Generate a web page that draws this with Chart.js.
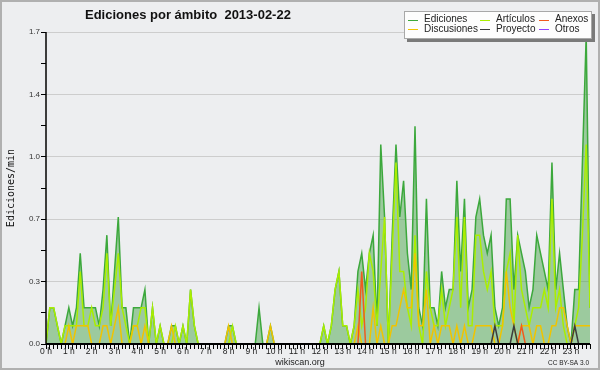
<!DOCTYPE html>
<html>
<head>
<meta charset="utf-8">
<title>Ediciones por ámbito</title>
<script src="https://cdn.jsdelivr.net/npm/chart.js@4.4.1/dist/chart.umd.min.js"></script>
<style>
    html, body { margin: 0; padding: 0; background: #edeef0; }
    canvas { display: block; }
</style>
</head>
<body>
<canvas id="chart" width="600" height="370"></canvas>
<script>
// Edits per minute, one value per 10-minute slot (6 per hour, 24 hours)
const ediciones = [
    0, .2, .2, .1, 0, .1,      .2, .1, .2, .5, .2, .2,     .2, .2, .1, .3, .6, .1,
    .4, .7, .2, .2, 0, .2,     .2, .2, .3, 0, .2, 0,       .1, 0, 0, .1, .1, 0,
    .1, 0, .3, .1, 0, 0,       0, 0, 0, 0, 0, 0,           .1, .1, 0, 0, 0, 0,
    0, 0, .2, 0, 0, .1,        0, 0, 0, 0, 0, 0,           0, 0, 0, 0, 0, 0,
    0, .1, 0, .1, .3, .4,      .1, .1, 0, .1, .4, .5,      .3, .5, .6, .1, 1.1, .7,
    0, .6, 1.1, .7, .9, .5,    .3, 1.2, .2, .1, .8, .2,    .2, .1, .4, .2, .3, .3,
    .9, .4, .8, .2, .3, .7,    .8, .6, .5, .6, .2, .1,     .2, .8, .8, .3, .6, .5,
    .4, .2, .3, .6, .5, .4,    .3, 1.0, .3, .5, .3, .1,    0, .3, .3, 1.0, 1.7, .2
];
const articulos = [
    0, .2, .2, .1, 0, .1,      .1, .1, .1, .4, .1, .1,     .2, .1, .1, .2, .5, .1,
    .3, .5, .2, .1, 0, .1,     .1, .2, .2, 0, .2, 0,       .1, 0, 0, 0, .1, 0,
    .1, 0, .3, .1, 0, 0,       0, 0, 0, 0, 0, 0,           0, .1, 0, 0, 0, 0,
    0, 0, 0, 0, 0, 0,          0, 0, 0, 0, 0, 0,           0, 0, 0, 0, 0, 0,
    0, .1, 0, .1, .3, .4,      .1, .1, 0, .1, .3, .1,      .2, .5, .4, .1, .4, .7,
    0, .5, 1.0, .4, .4, .2,    .1, .6, .1, 0, .4, .2,      .1, .1, .3, .1, .2, .3,
    .7, .2, .7, .1, .1, .6,    .6, .4, .3, .4, .1, .1,     .1, .4, .5, .1, .6, .3,
    .2, .1, .2, .2, .2, .3,    .2, .8, .2, .3, .1, 0,      0, .1, .2, .6, 1.1, .2
];
const discusiones = [
    0, 0, 0, 0, 0, 0,          .1, 0, .1, .1, .1, .1,      0, 0, 0, .1, .1, 0,
    .1, .2, 0, 0, 0, .1,       .1, 0, .1, 0, 0, 0,         0, 0, 0, .1, 0, 0,
    0, 0, 0, 0, 0, 0,          0, 0, 0, 0, 0, 0,           .1, 0, 0, 0, 0, 0,
    0, 0, 0, 0, 0, .1,         0, 0, 0, 0, 0, 0,           0, 0, 0, 0, 0, 0,
    0, 0, 0, 0, 0, 0,          0, 0, 0, 0, .1, 0,          0, 0, .2, 0, .1, 0,
    0, .1, .1, .2, .3, .2,     .2, .5, .1, .1, .3, 0,      .1, 0, .1, .1, .1, 0,
    .1, 0, .1, 0, 0, .1,       .1, .1, .1, .1, 0, 0,       .1, .4, .2, .1, 0, .1,
    .1, .1, 0, .1, .1, 0,      0, .1, .1, .2, .2, .1,      0, .1, .1, .1, .1, .1
];
const anexos = [
    0, 0, 0, 0, 0, 0,  0, 0, 0, 0, 0, 0,  0, 0, 0, 0, 0, 0,  0, 0, 0, 0, 0, 0,
    0, 0, 0, 0, 0, 0,  0, 0, 0, 0, 0, 0,  0, 0, 0, 0, 0, 0,  0, 0, 0, 0, 0, 0,
    0, 0, 0, 0, 0, 0,  0, 0, 0, 0, 0, 0,  0, 0, 0, 0, 0, 0,  0, 0, 0, 0, 0, 0,
    0, 0, 0, 0, 0, 0,  0, 0, 0, 0, 0, .4, 0, 0, 0, 0, 0, 0,  0, 0, 0, 0, 0, 0,
    0, 0, 0, 0, 0, 0,  0, 0, 0, 0, 0, 0,  0, 0, 0, 0, 0, 0,  0, 0, 0, 0, 0, 0,
    0, 0, 0, 0, 0, .1, 0, 0, 0, 0, 0, 0,  0, 0, 0, 0, 0, 0,  0, 0, 0, 0, 0, 0
];
const proyecto = [
    0, 0, 0, 0, 0, 0,  0, 0, 0, 0, 0, 0,  0, 0, 0, 0, 0, 0,  0, 0, 0, 0, 0, 0,
    0, 0, 0, 0, 0, 0,  0, 0, 0, 0, 0, 0,  0, 0, 0, 0, 0, 0,  0, 0, 0, 0, 0, 0,
    0, 0, 0, 0, 0, 0,  0, 0, 0, 0, 0, 0,  0, 0, 0, 0, 0, 0,  0, 0, 0, 0, 0, 0,
    0, 0, 0, 0, 0, 0,  0, 0, 0, 0, 0, 0,  0, 0, 0, 0, 0, 0,  0, 0, 0, 0, 0, 0,
    0, 0, 0, 0, 0, 0,  0, 0, 0, 0, 0, 0,  0, 0, 0, 0, 0, 0,  0, 0, 0, 0, .1, 0,
    0, 0, 0, .1, 0, 0, 0, 0, 0, 0, 0, 0,  0, 0, 0, 0, 0, 0,  0, .1, 0, 0, 0, 0
];
const otros = [
    0, 0, 0, 0, 0, 0,  0, 0, 0, 0, 0, 0,  0, 0, 0, 0, 0, 0,  0, 0, 0, 0, 0, 0,
    0, 0, 0, 0, 0, 0,  0, 0, 0, 0, 0, 0,  0, 0, 0, 0, 0, 0,  0, 0, 0, 0, 0, 0,
    0, 0, 0, 0, 0, 0,  0, 0, 0, 0, 0, 0,  0, 0, 0, 0, 0, 0,  0, 0, 0, 0, 0, 0,
    0, 0, 0, 0, 0, 0,  0, 0, 0, 0, 0, 0,  0, 0, 0, 0, 0, 0,  0, 0, 0, 0, 0, 0,
    0, 0, 0, 0, 0, 0,  0, 0, 0, 0, 0, 0,  0, 0, 0, 0, 0, 0,  0, 0, 0, 0, 0, 0,
    0, 0, 0, 0, 0, 0,  0, 0, 0, 0, 0, 0,  0, 0, 0, 0, 0, 0,  0, 0, 0, 0, 0, 0
];

const hourLabels = ['0 h', '1 h', '2 h', '3 h', '4 h', '5 h', '6 h', '7 h', '8 h', '9 h', '10 h', '11 h',
                    '12 h', '13 h', '14 h', '15 h', '16 h', '17 h', '18 h', '19 h', '20 h', '21 h', '22 h', '23 h'];
const yTickLabels = ['0.0', '0.3', '0.7', '1.0', '1.4', '1.7'];
const yMax = 1.72;
const slotsPerHour = 6;

const seriesNames = ['Ediciones', 'Artículos', 'Anexos', 'Discusiones', 'Proyecto', 'Otros'];
const colors = {
    'Ediciones': '#3ca83c',
    'Artículos': '#aaee00',
    'Anexos': '#f05a1e',
    'Discusiones': '#f0c400',
    'Proyecto': '#3c3c3c',
    'Otros': '#9040ff'
};

const toPoints = arr => arr.map((v, i) => ({ x: i, y: v }));

const lineSet = (name, values, order) => ({
    label: name,
    data: toPoints(values),
    borderColor: colors[name],
    borderWidth: 1.5,
    fill: false,
    order: order
});

/* Decorations: background, axis lines, title, legend, footer */
const decor = {
    id: 'decor',
    beforeDraw(chart) {
        const c = chart.ctx;
        c.save();
        c.fillStyle = '#edeef0';
        c.fillRect(0, 0, chart.width, chart.height);
        c.strokeStyle = '#b0b0b0';
        c.lineWidth = 2;
        c.strokeRect(1, 1, chart.width - 2, chart.height - 2);
        c.restore();
    },
    afterDatasetsDraw(chart) {
        const c = chart.ctx;
        const a = chart.chartArea;
        c.save();
        c.strokeStyle = '#000';
        c.lineWidth = 2;
        c.beginPath();
        c.moveTo(a.left, a.bottom);
        c.lineTo(a.right, a.bottom);
        c.stroke();
        c.lineWidth = 1.5;
        c.beginPath();
        c.moveTo(a.left, a.top);
        c.lineTo(a.left, a.bottom);
        c.stroke();
        c.restore();
    },
    afterDraw(chart) {
        const c = chart.ctx;
        const a = chart.chartArea;
        c.save();

        // title
        c.fillStyle = '#111';
        c.font = 'bold 13px "Liberation Sans", Arial, sans-serif';
        c.textAlign = 'left';
        c.textBaseline = 'alphabetic';
        c.fillText('Ediciones por ámbito  2013-02-22', 85, 18.5);

        // y axis title
        c.save();
        c.translate(13.5, (a.top + a.bottom) / 2);
        c.rotate(-Math.PI / 2);
        c.font = '10px "DejaVu Sans Mono", monospace';
        c.textAlign = 'center';
        c.fillText('Ediciones/min', 0, 0);
        c.restore();

        // footer
        c.fillStyle = '#222';
        c.font = '9px "Liberation Sans", Arial, sans-serif';
        c.textAlign = 'center';
        c.fillText('wikiscan.org', 300, 365);
        c.font = '6.5px "Liberation Sans", Arial, sans-serif';
        c.textAlign = 'right';
        c.fillText('CC BY-SA 3.0', 589, 364.5);

        // legend box
        const bx = 404, by = 11, bw = 188, bh = 28;
        c.fillStyle = '#7a7a7a';
        c.fillRect(bx + 3, by + 3, bw, bh);
        c.fillStyle = '#fdfdfd';
        c.fillRect(bx, by, bw, bh);
        c.strokeStyle = '#a8a8a8';
        c.lineWidth = 1;
        c.strokeRect(bx + 0.5, by + 0.5, bw - 1, bh - 1);

        const cols = [408, 480, 539];
        const rows = [19.5, 29];
        c.font = '10px "Liberation Sans", Arial, sans-serif';
        c.textAlign = 'left';
        c.textBaseline = 'middle';
        seriesNames.forEach((name, k) => {
            const x = cols[k % 3];
            const y = rows[Math.floor(k / 3)];
            c.strokeStyle = colors[name];
            c.lineWidth = 1;
            c.beginPath();
            c.moveTo(x, Math.round(y) + 0.5);
            c.lineTo(x + 10, Math.round(y) + 0.5);
            c.stroke();
            c.fillStyle = '#222';
            c.fillText(name, x + 16, y);
        });
        c.restore();
    }
};

const ctx = document.getElementById('chart').getContext('2d');
new Chart(ctx, {
    type: 'line',
    data: {
        datasets: [
            {
                label: 'Ediciones',
                data: toPoints(ediciones),
                borderColor: colors['Ediciones'],
                backgroundColor: 'rgba(60, 160, 60, 0.46)',
                borderWidth: 1.5,
                fill: 'origin',
                order: 6
            },
            lineSet('Artículos', articulos, 5),
            lineSet('Discusiones', discusiones, 4),
            lineSet('Anexos', anexos, 3),
            lineSet('Proyecto', proyecto, 2),
            lineSet('Otros', otros, 1)
        ]
    },
    options: {
        responsive: false,
        animation: false,
        layout: { padding: { top: 32, right: 10, left: 0, bottom: 0 } },
        elements: {
            point: { radius: 0 },
            line: { tension: 0 }
        },
        plugins: {
            legend: { display: false },
            tooltip: { enabled: false }
        },
        scales: {
            x: {
                type: 'linear',
                min: 0,
                max: ediciones.length - 1,
                afterFit: s => { s.height = 26; },
                afterBuildTicks: s => {
                    s.ticks = ediciones.map((_, i) => ({ value: i }));
                },
                ticks: {
                    autoSkip: false,
                    maxRotation: 0,
                    padding: -2,
                    color: '#222',
                    font: { family: '"Liberation Sans", Arial, sans-serif', size: 8.5 },
                    callback: v => (v % slotsPerHour === 0 ? hourLabels[v / slotsPerHour] : '')
                },
                grid: {
                    drawOnChartArea: false,
                    tickLength: 5,
                    tickColor: '#000',
                    tickWidth: 1
                },
                border: { display: false }
            },
            y: {
                min: 0,
                max: yMax,
                afterFit: s => { s.width = 46; },
                afterBuildTicks: s => {
                    s.ticks = [0, 1, 2, 3, 4, 5, 6, 7, 8, 9, 10].map(k => ({ value: k * yMax / 10 }));
                },
                ticks: {
                    autoSkip: false,
                    padding: 1,
                    color: '#333',
                    font: { family: '"Liberation Sans", Arial, sans-serif', size: 8 },
                    callback: (v, i) => (i % 2 === 0 ? yTickLabels[i / 2] : '')
                },
                grid: {
                    color: c => (c.index % 2 === 0 && c.index > 0 ? '#cdcdcd' : 'rgba(0,0,0,0)'),
                    tickColor: '#000',
                    tickLength: 5,
                    tickWidth: 1
                },
                border: { display: false }
            }
        }
    },
    plugins: [decor]
});
</script>
</body>
</html>
